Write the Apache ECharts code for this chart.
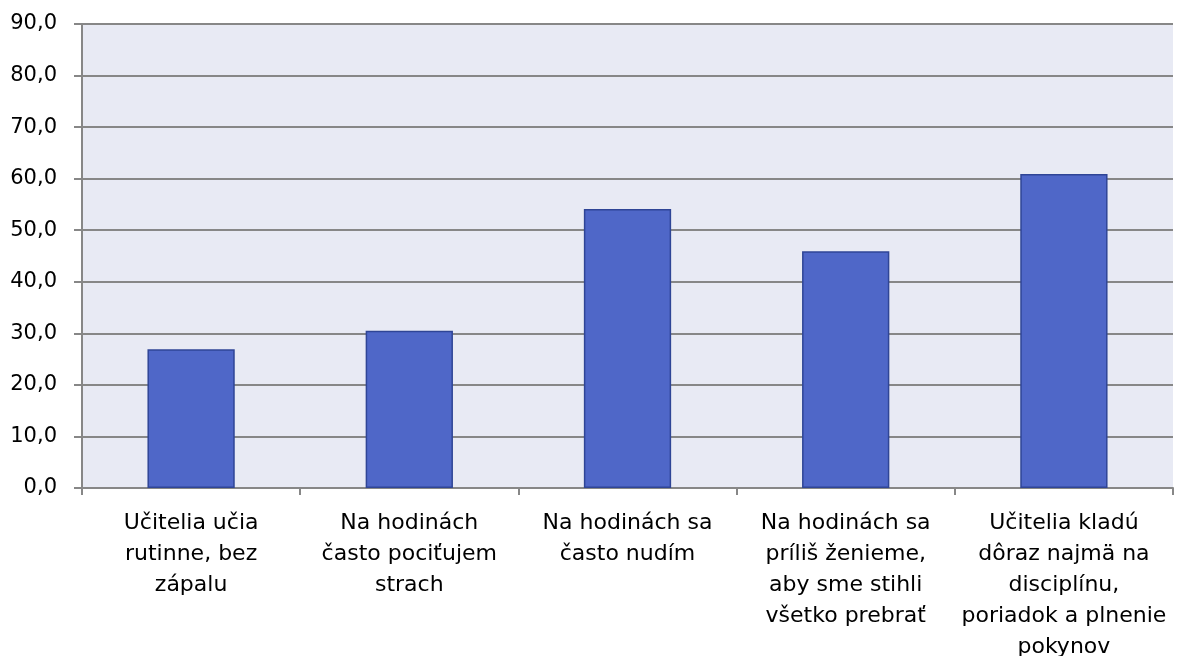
<!DOCTYPE html>
<html>
<head>
<meta charset="utf-8">
<script src="https://cdn.jsdelivr.net/npm/echarts@6/dist/echarts.min.js"></script>
<style>
  html, body { margin: 0; padding: 0; background: #fff; }
  #chart { width: 1180px; height: 656px; }
</style>
</head>
<body>
<div id="chart"></div>
<script>
var categories = [
    'Učitelia učia\nrutinne, bez\nzápalu',
    'Na hodinách\nčasto pociťujem\nstrach',
    'Na hodinách sa\nčasto nudím',
    'Na hodinách sa\npríliš ženieme,\naby sme stihli\nvšetko prebrať',
    'Učitelia kladú\ndôraz najmä na\ndisciplínu,\nporiadok a plnenie\npokynov'
];
var values = [26.9, 30.5, 54.1, 45.9, 60.9];

(function () {
    var chart = echarts.init(document.getElementById('chart'));
    var gridColor = '#878787';

    chart.setOption({
        animation: false,
        grid: {
            left: 82, right: 7, top: 24, bottom: 168,
            outerBoundsMode: 'none',
            containLabel: false,
            show: true, backgroundColor: '#e8eaf4', borderWidth: 0
        },
        xAxis: {
            type: 'category',
            data: categories,
            axisLine: { show: true, lineStyle: { color: gridColor, width: 2 } },
            axisTick: { show: true, alignWithLabel: false, length: 7, lineStyle: { color: gridColor, width: 2 } },
            axisLabel: {
                interval: 0,
                margin: 20,
                color: '#000',
                fontFamily: '"DejaVu Sans", Verdana, sans-serif',
                fontSize: 22,
                lineHeight: 31
            }
        },
        yAxis: {
            type: 'value',
            min: 0, max: 90, interval: 10,
            axisLine: { show: true, lineStyle: { color: gridColor, width: 2 } },
            axisTick: { show: true, length: 8, lineStyle: { color: gridColor, width: 2 } },
            splitLine: { show: true, lineStyle: { color: gridColor, width: 2 } },
            axisLabel: {
                margin: 25,
                color: '#000',
                fontFamily: '"DejaVu Sans", Verdana, sans-serif',
                fontSize: 21,
                formatter: function (v) { return v.toFixed(1).replace('.', ','); }
            }
        },
        series: [{
            type: 'bar',
            data: values,
            barWidth: '40%',
            itemStyle: { color: '#4f67c8', borderColor: '#2f4596', borderWidth: 1.5 }
        }]
    });
})();
</script>
</body>
</html>
